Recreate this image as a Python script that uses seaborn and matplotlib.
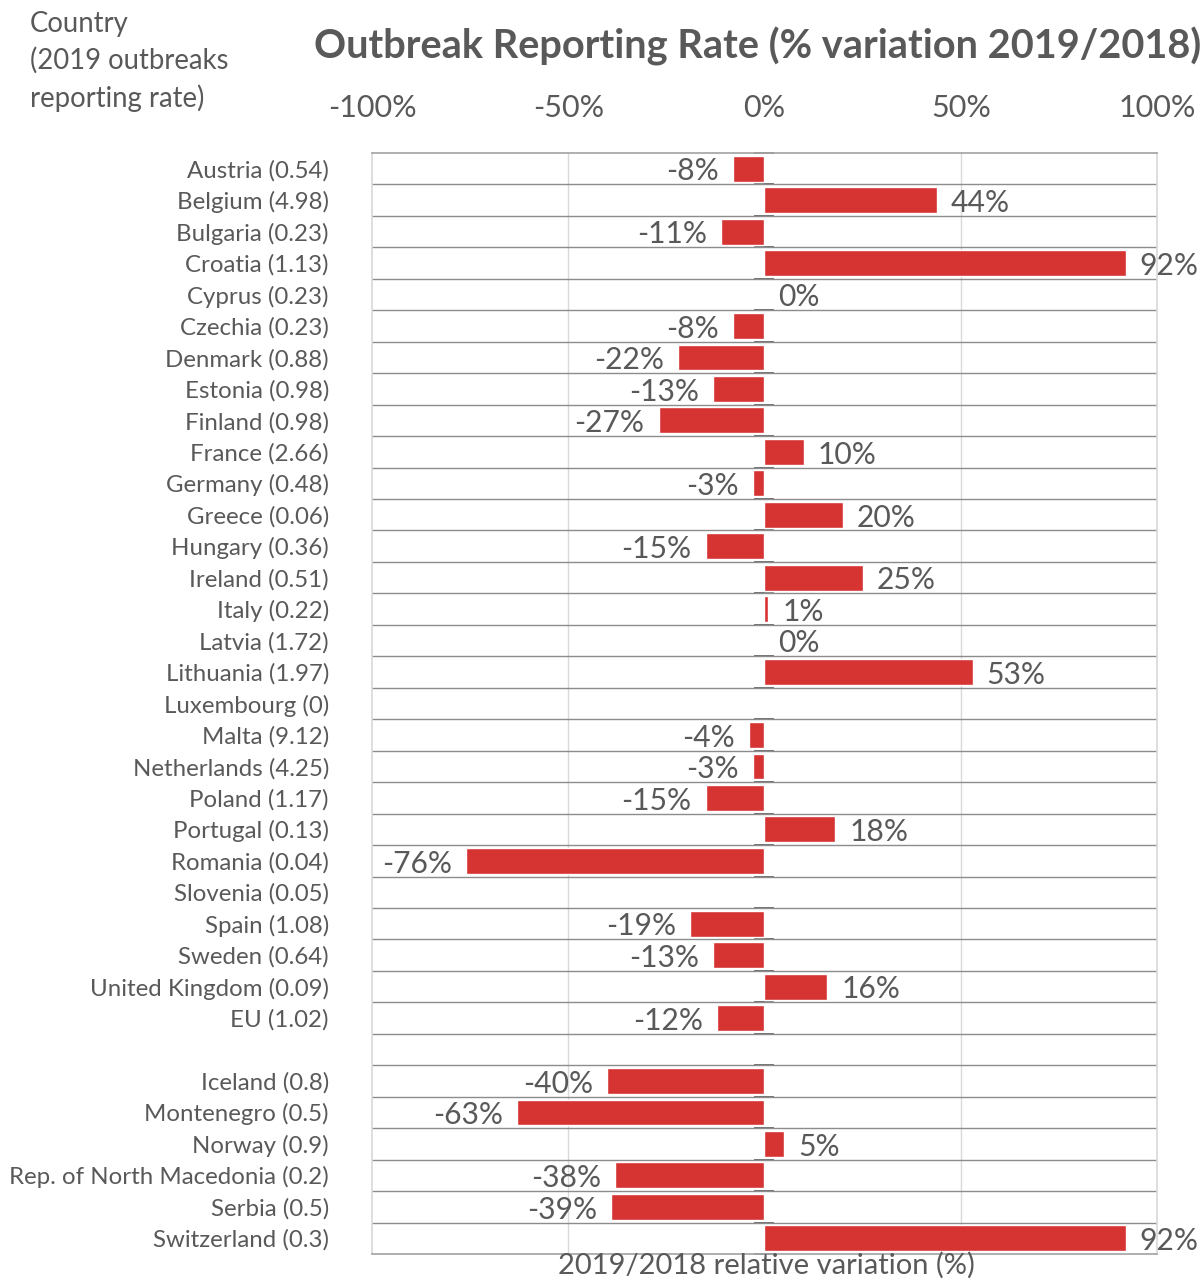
import matplotlib
matplotlib.use('Agg')
import matplotlib.pyplot as plt
import seaborn as sns
import numpy as np
import pandas as pd

# Countries with 2019 outbreak reporting rate
countries = ['Austria (0.54)', 'Belgium (4.98)', 'Bulgaria (0.23)', 'Croatia (1.13)',
             'Cyprus (0.23)', 'Czechia (0.23)', 'Denmark (0.88)', 'Estonia (0.98)',
             'Finland (0.98)', 'France (2.66)', 'Germany (0.48)', 'Greece (0.06)',
             'Hungary (0.36)', 'Ireland (0.51)', 'Italy (0.22)', 'Latvia (1.72)',
             'Lithuania (1.97)', 'Luxembourg (0)', 'Malta (9.12)', 'Netherlands (4.25)',
             'Poland (1.17)', 'Portugal (0.13)', 'Romania (0.04)', 'Slovenia (0.05)',
             'Spain (1.08)', 'Sweden (0.64)', 'United Kingdom (0.09)', 'EU (1.02)',
             '',
             'Iceland (0.8)', 'Montenegro (0.5)', 'Norway (0.9)',
             'Rep. of North Macedonia (0.2)', 'Serbia (0.5)', 'Switzerland (0.3)']

# % variation 2019/2018 (None = no data)
variation = [-8, 44, -11, 92, 0, -8, -22, -13, -27, 10, -3, 20, -15, 25, 1, 0,
             53, None, -4, -3, -15, 18, -76, None, -19, -13, 16, -12,
             None,
             -40, -63, 5, -38, -39, 92]

xticks = [-100, -50, 0, 50, 100]
xtick_labels = ['-100%', '-50%', '0%', '50%', '100%']

sns.set_theme(style='white')
plt.rcParams['font.family'] = ['Lato', 'DejaVu Sans']
grey = '#595959'
red = '#d63333'

df = pd.DataFrame({'country': countries, 'value': variation})

fig = plt.figure(figsize=(12.01, 12.80), dpi=100)
ax = fig.add_axes([0.3097, 0.0203, 0.6537, 0.8602])

sns.barplot(data=df.dropna(), x='value', y='country', order=countries,
            orient='h', color=red, saturation=1, width=0.82, ax=ax)

ax.set_xlim(-100, 100)
ax.set_ylim(len(countries) - 0.5, -0.5)

# vertical gridlines
for xv in [-50, 50]:
    ax.axvline(xv, color='#d9d9d9', lw=1, zorder=0)

# row separators
ax.set_yticks(np.arange(0.5, len(countries) - 1), minor=True)
ax.grid(axis='y', which='minor', color='#8c8c8c', lw=1)
ax.grid(axis='y', which='major', visible=False)
ax.tick_params(axis='y', which='minor', length=0)
ax.set_axisbelow(True)

# x axis on top
ax.xaxis.tick_top()
ax.set_xticks(xticks)
ax.set_xticklabels(xtick_labels)
ax.tick_params(axis='x', length=0, pad=22, labelsize=22, labelcolor=grey)
ax.tick_params(axis='y', which='major', length=0, pad=31, labelsize=17.3, labelcolor=grey)
ax.set_xlabel('')
ax.set_ylabel('')

for s in ['left', 'right']:
    ax.spines[s].set_color('#d9d9d9')
for s in ['top', 'bottom']:
    ax.spines[s].set_color('#a6a6a6')

# zero axis with tick marks at row boundaries
sec = ax.secondary_yaxis(0.5)
sec.set_yticks(np.arange(-0.5, len(countries)))
sec.set_yticklabels([])
sec.tick_params(axis='y', direction='inout', length=14, width=1.2, color=grey)
sec.spines['left'].set_color(grey)
sec.spines['left'].set_linewidth(1.5)
sec.spines['right'].set_visible(False)

# value labels
for i, v in enumerate(variation):
    if v is None:
        continue
    if v >= 0:
        ax.annotate(f'{v}%', (v, i), xytext=(10, -2), textcoords='offset points',
                    ha='left', va='center', fontsize=21.6, color=grey, annotation_clip=False)
    else:
        ax.annotate(f'{v}%', (v, i), xytext=(-10, -2), textcoords='offset points',
                    ha='right', va='center', fontsize=21.6, color=grey, annotation_clip=False)

fig.text(0.6311, 1 - 46 / 1280, 'Outbreak Reporting Rate (% variation 2019/2018)',
         ha='center', va='center', fontsize=28.6, fontweight='bold', color=grey)
fig.text(30 / 1201, 1 - 11 / 1280, 'Country\n(2019 outbreaks\nreporting rate)',
         ha='left', va='top', fontsize=19.8, color=grey, linespacing=1.45)
fig.text(766 / 1201, 1 / 1280, '2019/2018 relative variation (%)',
         ha='center', va='bottom', fontsize=21, color=grey)

fig.savefig('out.png', dpi=100)
